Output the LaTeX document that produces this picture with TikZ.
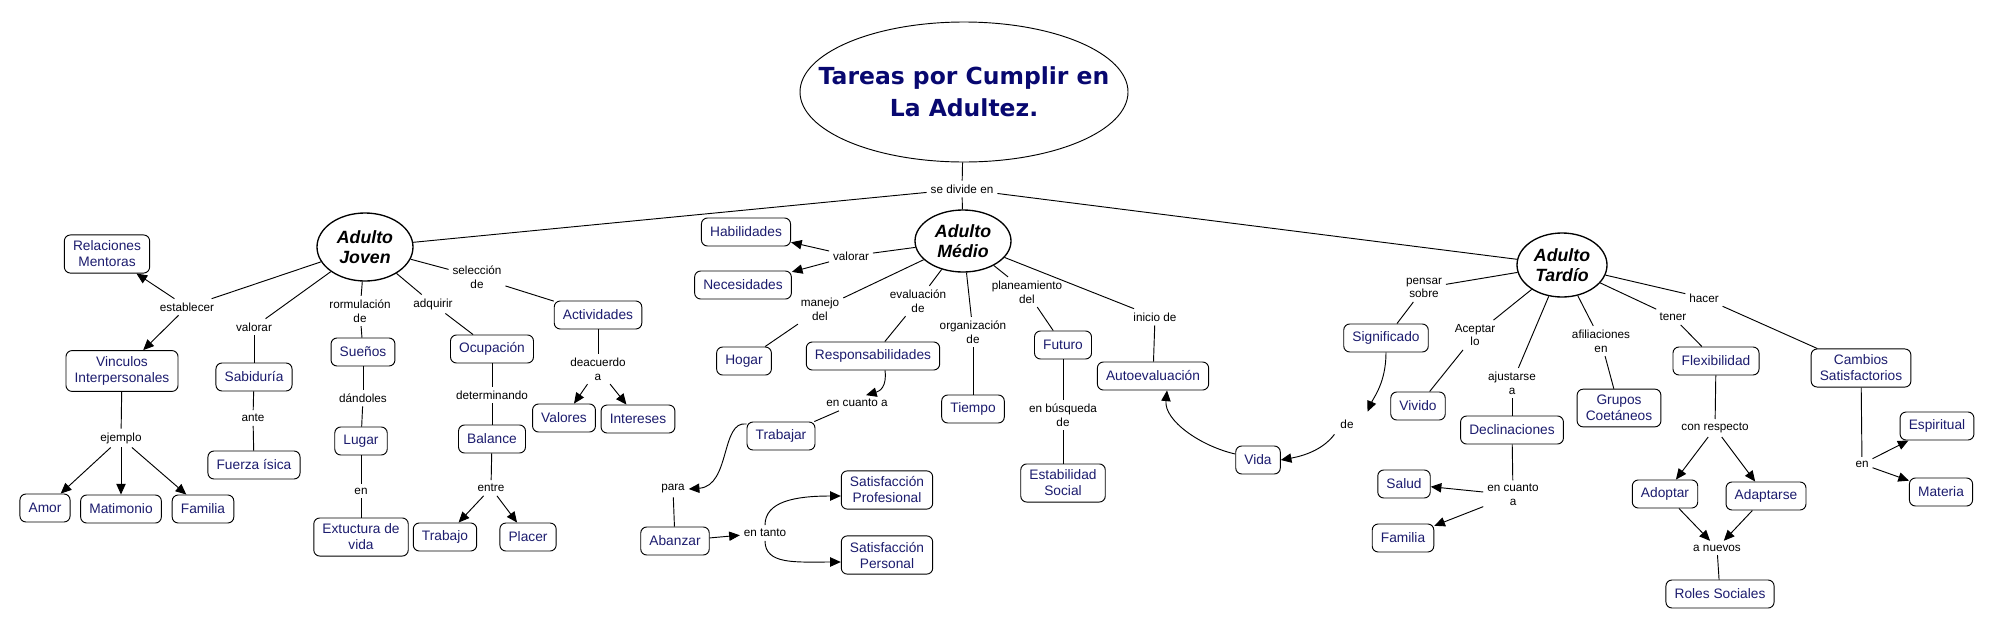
\documentclass[tikz,border=0pt]{standalone}
\usepackage{fontspec}
\setmainfont{Liberation Sans}
\newfontfamily\titlefont{DejaVu Sans}
\usetikzlibrary{shapes.geometric,arrows.meta}
\definecolor{cblue}{RGB}{28,28,110}
\definecolor{tblue}{RGB}{8,8,112}
\begin{document}
\begin{tikzpicture}[x=0.75pt,y=-0.75pt,
 concept/.style={draw, rounded corners=4.5pt, fill=white, text=cblue, font=\fontsize{10.3}{12}\selectfont, inner xsep=6.5pt, inner ysep=4.5pt, minimum height=21pt, align=center, line width=0.7pt},
 lbl/.style={font=\fontsize{8.8}{10.2}\selectfont, inner sep=1.5pt, outer sep=1.5pt, align=center},
 mainc/.style={draw, ellipse, line width=1pt, font=\fontsize{13.3}{15}\selectfont\bfseries\itshape, inner sep=0pt, align=center},
 conn/.style={draw, line width=0.7pt},
 arr/.style={conn, -{Triangle[length=8pt,width=7pt]}},
]
\useasboundingbox (0,0) rectangle (1994,629);
\fill[white] (0,0) rectangle (1994,629);

% main concepts
\node[draw, ellipse, line width=0.7pt, minimum width=246pt, minimum height=105pt, inner sep=0pt] (title) at (964,92) {};
\node[text=tblue, font=\titlefont\fontsize{17.6}{24}\selectfont\bfseries, align=center, inner sep=0pt] (titletxt) at (title.center) {Tareas por Cumplir en\\La Adultez.};
\node[mainc, minimum width=72pt, minimum height=51pt] (joven) at (365,247) {Adulto\\Joven};
\node[mainc, minimum width=72pt, minimum height=46.5pt] (medio) at (963,241) {Adulto\\Médio};
\node[mainc, minimum width=67.5pt, minimum height=48pt] (tardio) at (1562,265) {Adulto\\Tardío};

% concepts - Joven
\node[concept] (relment) at (107,254) {Relaciones\\Mentoras};
\node[concept] (vinc) at (122,371) {Vinculos\\Interpersonales};
\node[concept] (sabid) at (254,377) {Sabiduría};
\node[concept] (fuerza) at (254,465) {Fuerza ísica};
\node[concept] (suenos) at (363,352) {Sueños};
\node[concept] (lugar) at (361,441) {Lugar};
\node[concept] (extuct) at (361,537) {Extuctura de\\vida};
\node[concept] (ocup) at (492,349) {Ocupación};
\node[concept] (balance) at (492,439) {Balance};
\node[concept] (trabajo) at (445,537) {Trabajo};
\node[concept] (placer) at (528,537) {Placer};
\node[concept] (activ) at (598,315) {Actividades};
\node[concept] (valores) at (564,418) {Valores};
\node[concept] (intereses) at (638,419) {Intereses};
\node[concept] (amor) at (45,508) {Amor};
\node[concept] (matim) at (121,509) {Matimonio};
\node[concept] (famj) at (203,509) {Familia};

% concepts - Medio
\node[concept] (habil) at (746,232) {Habilidades};
\node[concept] (neces) at (743,285) {Necesidades};
\node[concept] (hogar) at (744,361) {Hogar};
\node[concept] (resp) at (873,356) {Responsabilidades};
\node[concept] (tiempo) at (973,409) {Tiempo};
\node[concept] (futuro) at (1063,345) {Futuro};
\node[concept] (autoev) at (1153,376) {Autoevaluación};
\node[concept] (trab) at (781,436) {Trabajar};
\node[concept] (abanzar) at (675,541) {Abanzar};
\node[concept] (satprof) at (887,490) {Satisfacción\\Profesional};
\node[concept] (satpers) at (887,555) {Satisfacción\\Personal};
\node[concept] (estab) at (1063,483) {Estabilidad\\Social};

% concepts - Tardio
\node[concept] (vida) at (1258,460) {Vida};
\node[concept] (signif) at (1386,338) {Significado};
\node[concept] (vivido) at (1418,406) {Vivido};
\node[concept] (declin) at (1512,430) {Declinaciones};
\node[concept] (salud) at (1404,484) {Salud};
\node[concept] (famt) at (1403,538) {Familia};
\node[concept] (grupos) at (1619,408) {Grupos\\Coetáneos};
\node[concept] (flex) at (1716,361) {Flexibilidad};
\node[concept] (adoptar) at (1665,494) {Adoptar};
\node[concept] (adaptarse) at (1766,496) {Adaptarse};
\node[concept] (roles) at (1720,594) {Roles Sociales};
\node[concept] (cambios) at (1861,368) {Cambios\\Satisfactorios};
\node[concept] (espiritual) at (1937,426) {Espiritual};
\node[concept] (materia) at (1941,492) {Materia};

% linking phrases
\node[lbl] (sediv) at (962,189) {se divide en};
\node[lbl] (establecer) at (187,307) {establecer};
\node[lbl] (valorarj) at (254,327) {valorar};
\node[lbl] (rormul) at (360,311) {rormulación\\de};
\node[lbl] (adquirir) at (433,304) {adquirir};
\node[lbl] (selec) at (477,277) {selección\\de};
\node[lbl] (ejemplo) at (121,438) {ejemplo};
\node[lbl] (ante) at (253,418) {ante};
\node[lbl] (dandoles) at (363,398) {dándoles};
\node[lbl] (enj) at (361,491) {en};
\node[lbl] (determ) at (492,395) {determinando};
\node[lbl] (entre) at (491,488) {entre};
\node[lbl] (deacuerdo) at (598,369) {deacuerdo\\a};

\node[lbl] (valorarm) at (851,256) {valorar};
\node[lbl] (manejo) at (820,309) {manejo\\del};
\node[lbl] (evalua) at (918,301) {evaluación\\de};
\node[lbl] (organiz) at (973,332) {organización\\de};
\node[lbl] (planea) at (1027,292) {planeamiento\\del};
\node[lbl] (inicio) at (1155,317) {inicio de};
\node[lbl] (ecuam) at (857,403) {en cuanto a};
\node[lbl] (para) at (673,489) {para};
\node[lbl] (entanto) at (765,533) {en tanto};
\node[lbl] (enbusq) at (1063,415) {en búsqueda\\de};

\node[lbl] (pensar) at (1424,288) {pensar\\sobre};
\node[lbl] (aceptar) at (1475,335) {Aceptar\\lo};
\node[lbl] (ajustarse) at (1512,383) {ajustarse\\a};
\node[lbl] (afilia) at (1601,341) {afiliaciones\\en};
\node[lbl] (tener) at (1673,317) {tener};
\node[lbl] (hacer) at (1704,298) {hacer};
\node[lbl] (de) at (1347,424) {de};
\node[lbl] (ecuat) at (1513,495) {en cuanto\\a};
\node[lbl] (conresp) at (1715,428) {con respecto};
\node[lbl] (anuevos) at (1717,548) {a nuevos};
\node[lbl] (enc) at (1862,464) {en};

% connectors - top
\draw[conn] (title) -- (sediv);
\draw[conn] (sediv) -- (joven);
\draw[conn] (sediv) -- (medio);
\draw[conn] (sediv) -- (tardio);

% Joven
\draw[conn] (joven) -- (establecer);
\draw[arr] (establecer) -- (relment);
\draw[arr] (establecer) -- (vinc);
\draw[conn] (joven) -- (valorarj);
\draw[conn] (valorarj) -- (sabid);
\draw[conn] (joven) -- (rormul);
\draw[conn] (rormul) -- (suenos);
\draw[conn] (joven) -- (adquirir);
\draw[conn] (adquirir) -- (ocup);
\draw[conn] (joven) -- (selec);
\draw[conn] (selec) -- (activ);
\draw[conn] (vinc) -- (ejemplo);
\draw[arr] (ejemplo) -- (amor);
\draw[arr] (ejemplo) -- (matim);
\draw[arr] (ejemplo) -- (famj);
\draw[conn] (sabid) -- (ante);
\draw[conn] (ante) -- (fuerza);
\draw[conn] (suenos) -- (dandoles);
\draw[conn] (dandoles) -- (lugar);
\draw[conn] (lugar) -- (enj);
\draw[conn] (enj) -- (extuct);
\draw[conn] (ocup) -- (determ);
\draw[conn] (determ) -- (balance);
\draw[conn] (balance) -- (entre);
\draw[arr] (entre) -- (trabajo);
\draw[arr] (entre) -- (placer);
\draw[conn] (activ) -- (deacuerdo);
\draw[arr] (deacuerdo) -- (valores);
\draw[arr] (deacuerdo) -- (intereses);

% Medio
\draw[conn] (medio) -- (valorarm);
\draw[arr] (valorarm) -- (habil);
\draw[arr] (valorarm) -- (neces);
\draw[conn] (medio) -- (manejo);
\draw[conn] (manejo) -- (hogar);
\draw[conn] (medio) -- (evalua);
\draw[conn] (evalua) -- (resp);
\draw[conn] (medio) -- (organiz);
\draw[conn] (organiz) -- (tiempo);
\draw[conn] (medio) -- (planea);
\draw[conn] (planea) -- (futuro);
\draw[conn] (medio) -- (inicio);
\draw[conn] (inicio) -- (autoev);
\draw[conn] (futuro) -- (enbusq);
\draw[conn] (enbusq) -- (estab);
\draw[arr] ([shift={(12,0)}]resp.south) .. controls +(2,16) and +(14,-4) .. ([shift={(9,0)}]ecuam.north);
\draw[conn] (ecuam) -- (trab);
\draw[arr] ([shift={(0,-12)}]trab.west) .. controls +(-26,-4) and +(42,-3) .. (para.east);
\draw[conn] (para) -- (abanzar);
\draw[arr] (abanzar) -- (entanto);
\draw[arr] (entanto.north) .. controls +(0,-24) and +(-45,0) .. ([shift={(0,6)}]satprof.west);
\draw[arr] (entanto.south) .. controls +(0,24) and +(-45,0) .. ([shift={(0,7)}]satpers.west);
\draw[arr] ([shift={(0,-6)}]vida.west) .. controls +(-35,-8) and +(-3,30) .. ([shift={(14,0)}]autoev.south);

% Tardio
\draw[conn] (tardio) -- (pensar);
\draw[conn] (pensar) -- (signif);
\draw[arr] (signif.south) .. controls +(0,30) and +(6,-14) .. ([shift={(10,-4)}]de.north east);
\draw[arr] ([shift={(-2,2)}]de.south west) .. controls +(-12,16) and +(22,-4) .. (vida.east);
\draw[conn] (tardio) -- (aceptar);
\draw[conn] (aceptar) -- (vivido);
\draw[conn] (tardio) -- (ajustarse);
\draw[conn] (ajustarse) -- (declin);
\draw[conn] (declin) -- (ecuat);
\draw[arr] (ecuat) -- (salud);
\draw[arr] (ecuat) -- (famt);
\draw[conn] (tardio) -- (afilia);
\draw[conn] (afilia) -- (grupos);
\draw[conn] (tardio) -- (tener);
\draw[conn] (tener) -- (flex);
\draw[conn] (flex) -- (conresp);
\draw[arr] (conresp) -- (adoptar);
\draw[arr] (conresp) -- (adaptarse);
\draw[arr] (adoptar) -- (anuevos);
\draw[arr] (adaptarse) -- (anuevos);
\draw[conn] (anuevos) -- (roles);
\draw[conn] (tardio) -- (hacer);
\draw[conn] (hacer) -- (cambios);
\draw[conn] (cambios) -- (enc);
\draw[arr] (enc) -- (espiritual);
\draw[arr] (enc) -- (materia);
\end{tikzpicture}
\end{document}
